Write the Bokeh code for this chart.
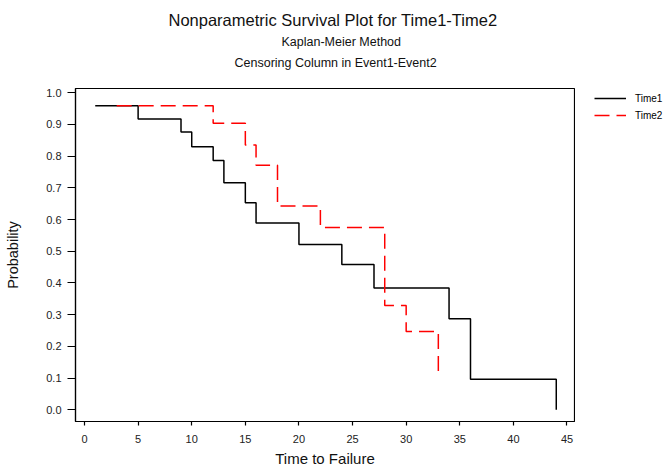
from bokeh.plotting import figure
from bokeh.layouts import row
from bokeh.models import Title, Legend, LegendItem, FixedTicker, Range1d
from bokeh.embed import file_html
from bokeh.resources import INLINE

# Data
time1_t = [1, 5, 9, 10, 12, 13, 15, 16, 20, 24, 27, 34, 36, 44]
time1_s = [0.959, 0.917, 0.876, 0.830, 0.786, 0.716, 0.653, 0.589, 0.521, 0.458, 0.384, 0.287, 0.096, 0.0]
time2_t = [3, 12, 15, 16, 18, 22, 28, 30, 33]
time2_s = [0.959, 0.904, 0.835, 0.771, 0.643, 0.575, 0.329, 0.247, 0.121]
series_names = ["Time1", "Time2"]
x_ticks = [0, 5, 10, 15, 20, 25, 30, 35, 40, 45]
y_ticks = [0.0, 0.1, 0.2, 0.3, 0.4, 0.5, 0.6, 0.7, 0.8, 0.9, 1.0]

FONT = "Liberation Sans"
RED = "#ff0000"
TXT = "#111111"
H = 469

p = figure(width=575, height=H, output_backend="svg", toolbar_location=None,
           x_range=Range1d(-0.84, 45.7), y_range=Range1d(-0.037, 1.0135),
           min_border_left=75, min_border_right=1, min_border_top=88, min_border_bottom=40)

# titles: first added sits nearest the frame, p.title outermost
p.add_layout(Title(text=" ", text_font=FONT, text_font_size="12px", standoff=0), "above")
p.add_layout(Title(text="Censoring Column in Event1-Event2", text_font=FONT, text_font_size="12.5px",
                   text_font_style="normal", text_color=TXT, align="left", offset=159,
                   standoff=5), "above")
p.add_layout(Title(text="Kaplan-Meier Method", text_font=FONT, text_font_size="12.5px",
                   text_font_style="normal", text_color=TXT, align="left", offset=206,
                   standoff=5), "above")
p.title.text = "Nonparametric Survival Plot for Time1-Time2"
p.title.text_font = FONT
p.title.text_font_size = "16.5px"
p.title.text_font_style = "normal"
p.title.text_color = TXT
p.title.align = "left"
p.title.offset = 93
p.title.standoff = 4

l1 = p.step(time1_t, time1_s, mode="after", line_color="black", line_width=1.5)
l2 = p.step(time2_t, time2_s, mode="after", line_color=RED, line_width=1.5, line_dash="15 7")

p.grid.visible = False
p.outline_line_color = "black"
p.outline_line_width = 1.2

for ax in (p.xaxis, p.yaxis):
    ax.axis_line_color = "black"
    ax.axis_line_width = 1.2
    ax.major_tick_line_color = "black"
    ax.major_tick_line_width = 1.2
    ax.major_tick_in = 0
    ax.minor_tick_line_color = None
    ax.major_label_text_font = FONT
    ax.major_label_text_font_size = "11px"
    ax.major_label_text_color = "#222222"
    ax.axis_label_text_font = FONT
    ax.axis_label_text_font_style = "normal"
    ax.axis_label_text_color = TXT

p.xaxis.ticker = FixedTicker(ticks=x_ticks)
p.yaxis.ticker = FixedTicker(ticks=y_ticks)
p.yaxis.major_label_overrides = {v: f"{v:.1f}" for v in y_ticks}
p.xaxis.major_tick_out = 4
p.yaxis.major_tick_out = 8
p.xaxis.major_label_standoff = 9
p.yaxis.major_label_standoff = 6
p.xaxis.axis_label = "Time to Failure"
p.yaxis.axis_label = "Probability"
p.xaxis.axis_label_text_font_size = "15px"
p.yaxis.axis_label_text_font_size = "14.5px"
p.xaxis.axis_label_standoff = 4
p.yaxis.axis_label_standoff = 22

# legend area to the right of the plot frame (its frame is aligned with p's frame)
p2 = figure(width=88, height=H, output_backend="svg", toolbar_location=None,
            x_axis_type=None, y_axis_type=None, x_range=Range1d(0, 1), y_range=Range1d(0, 1),
            min_border=0)
p2.grid.visible = False
p2.outline_line_color = None
s1 = p2.line([float("nan")], [float("nan")], line_color="black", line_width=1.5)
s2 = p2.line([float("nan")], [float("nan")], line_color=RED, line_width=1.5, line_dash="15 7")
legend = Legend(items=[LegendItem(label=series_names[0], renderers=[s1]),
                       LegendItem(label=series_names[1], renderers=[s2])],
                location=(19, 299), border_line_color=None, background_fill_alpha=0,
                label_text_font=FONT, label_text_font_size="10px", label_text_color="black",
                glyph_width=32, glyph_height=14, label_height=14, label_standoff=9, spacing=3,
                padding=0, margin=0)
p2.add_layout(legend, "center")

open("out.html", "w").write(file_html(row(p, p2), INLINE))
